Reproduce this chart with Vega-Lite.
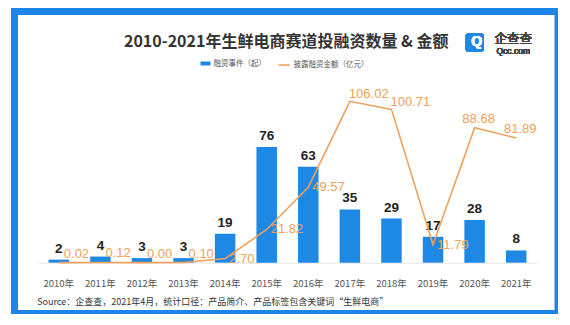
{
  "$schema": "https://vega.github.io/schema/vega-lite/v6.json",
  "autosize": "none",
  "padding": {"left": 14.5, "top": 11.5, "right": 0, "bottom": 0},
  "width": 543.5,
  "height": 302,
  "background": "white",
  "title": {
    "text": "2010-2021年生鲜电商赛道投融资数量 & 金额",
    "anchor": "middle",
    "frame": "group",
    "font": "Noto Sans CJK SC",
    "fontSize": 16,
    "fontWeight": "bold",
    "color": "#333333",
    "baseline": "middle",
    "offset": -46
  },
  "data": {
    "values": [
      {"year": "2010年", "count": 2, "amount": 0.02},
      {"year": "2011年", "count": 4, "amount": 0.12},
      {"year": "2012年", "count": 3, "amount": 0.0},
      {"year": "2013年", "count": 3, "amount": 0.1},
      {"year": "2014年", "count": 19, "amount": 2.7},
      {"year": "2015年", "count": 76, "amount": 21.82},
      {"year": "2016年", "count": 63, "amount": 49.57},
      {"year": "2017年", "count": 35, "amount": 106.02},
      {"year": "2018年", "count": 29, "amount": 100.71},
      {"year": "2019年", "count": 17, "amount": 11.79},
      {"year": "2020年", "count": 28, "amount": 88.68},
      {"year": "2021年", "count": 8, "amount": 81.89}
    ]
  },
  "encoding": {
    "x": {
      "field": "year",
      "type": "nominal",
      "sort": null,
      "scale": {"range": [23.5, 522.5], "paddingInner": 0.507, "paddingOuter": 0.2535},
      "axis": {
        "orient": "bottom",
        "offset": -50.8,
        "title": "Source：企查查，2021年4月，统计口径：产品简介、产品标签包含关键词“生鲜电商”",
        "titleFont": "Noto Sans CJK SC",
        "titleFontSize": 9,
        "titleFontWeight": "normal",
        "titleColor": "#333333",
        "titleAnchor": "start",
        "titleAlign": "left",
        "titleBaseline": "middle",
        "titleX": 22.2,
        "titleY": 39,
        "labelFont": "Noto Sans CJK SC",
        "labelFontSize": 9.5,
        "labelColor": "#555555",
        "labelAngle": 0,
        "labelPadding": 16,
        "ticks": false,
        "grid": false,
        "domainColor": "#e4e4e4",
        "domainWidth": 1
      }
    }
  },
  "layer": [
    {
      "mark": {"type": "bar"},
      "encoding": {
        "y": {"field": "count", "type": "quantitative", "scale": {"domain": [-33.4, 165], "nice": false, "zero": false}, "axis": null},
        "y2": {"datum": 0},
        "fill": {
          "datum": "融资事件（起）",
          "scale": {"range": ["#1E88E5"]},
          "legend": {
            "orient": "none",
            "legendX": 186,
            "legendY": 47,
            "title": null,
            "padding": 0,
            "symbolType": "M-1,-0.4H1V0.4H-1Z",
            "symbolSize": 100,
            "symbolStrokeWidth": 0,
            "labelFont": "Noto Sans CJK SC",
            "labelFontSize": 7.5,
            "labelColor": "#555555",
            "labelOffset": 3
          }
        }
      }
    },
    {
      "mark": {"type": "text", "baseline": "bottom", "dy": -4, "font": "Liberation Sans", "fontSize": 13.5, "fontWeight": "bold", "color": "#222222"},
      "encoding": {
        "y": {"field": "count", "type": "quantitative"},
        "text": {"field": "count", "type": "quantitative"}
      }
    },
    {
      "mark": {"type": "line", "strokeWidth": 1.6, "interpolate": "linear"},
      "encoding": {
        "y": {"field": "amount", "type": "quantitative"},
        "stroke": {
          "datum": "披露融资金额（亿元）",
          "scale": {"range": ["#F0A05A"]},
          "legend": {
            "orient": "none",
            "legendX": 263,
            "legendY": 47,
            "title": null,
            "padding": 0,
            "symbolType": "stroke",
            "symbolSize": 121,
            "symbolStrokeWidth": 1.6,
            "labelFont": "Noto Sans CJK SC",
            "labelFontSize": 7.5,
            "labelColor": "#555555",
            "labelOffset": 3
          }
        }
      }
    },
    {
      "transform": [{"filter": {"field": "year", "oneOf": ["2010年", "2011年", "2012年", "2013年"]}}],
      "mark": {"type": "text", "align": "left", "baseline": "middle", "dx": 5, "dy": -9, "font": "Liberation Sans", "fontSize": 13, "color": "#F0A05A"},
      "encoding": {
        "y": {"field": "amount", "type": "quantitative"},
        "text": {"field": "amount", "type": "quantitative", "format": ".2f"}
      }
    },
    {
      "transform": [{"filter": {"field": "year", "oneOf": ["2014年", "2015年", "2016年", "2019年"]}}],
      "mark": {"type": "text", "align": "left", "baseline": "middle", "dx": 4, "dy": 0, "font": "Liberation Sans", "fontSize": 13, "color": "#F0A05A"},
      "encoding": {
        "y": {"field": "amount", "type": "quantitative"},
        "text": {"field": "amount", "type": "quantitative", "format": ".2f"}
      }
    },
    {
      "transform": [{"filter": {"field": "year", "oneOf": ["2017年", "2018年"]}}],
      "mark": {"type": "text", "align": "left", "baseline": "middle", "dx": -1, "dy": -7, "font": "Liberation Sans", "fontSize": 13, "color": "#F0A05A"},
      "encoding": {
        "y": {"field": "amount", "type": "quantitative"},
        "text": {"field": "amount", "type": "quantitative", "format": ".2f"}
      }
    },
    {
      "transform": [{"filter": {"field": "year", "oneOf": ["2020年", "2021年"]}}],
      "mark": {"type": "text", "align": "center", "baseline": "middle", "dx": 4, "dy": -9, "font": "Liberation Sans", "fontSize": 13, "color": "#F0A05A"},
      "encoding": {
        "y": {"field": "amount", "type": "quantitative"},
        "text": {"field": "amount", "type": "quantitative", "format": ".2f"}
      }
    },
    {
      "mark": {"type": "point", "shape": "M-0.72,-1H0.72Q1,-1,1,-0.72V0.72Q1,1,0.72,1H-0.72Q-1,1,-1,0.72V-0.72Q-1,-1,-0.72,-1Z", "size": 324, "filled": true, "color": "#1E88E5", "opacity": 1, "dx": 2},
      "encoding": {"x": {"datum": "2020年"}, "y": {"datum": 144.7}}
    },
    {
      "mark": {"type": "text", "text": "Q", "font": "Liberation Sans", "fontSize": 14, "fontWeight": "bold", "color": "white", "baseline": "middle", "align": "center", "dx": 2},
      "encoding": {"x": {"datum": "2020年"}, "y": {"datum": 144.7}}
    },
    {
      "mark": {"type": "text", "text": "企查查", "font": "Noto Sans CJK SC", "fontSize": 12.5, "color": "#444444", "baseline": "middle", "align": "center", "dx": -3},
      "encoding": {"x": {"datum": "2021年"}, "y": {"datum": 147.2}}
    },
    {
      "mark": {"type": "text", "text": "Qcc.com", "font": "Liberation Sans", "fontSize": 8.5, "color": "#444444", "baseline": "middle", "align": "center", "dx": -3},
      "encoding": {"x": {"datum": "2021年"}, "y": {"datum": 139.3}}
    }
  ],
  "config": {
    "view": {"stroke": "#1C86E8", "strokeWidth": 7},
    "font": "Noto Sans CJK SC"
  }
}
